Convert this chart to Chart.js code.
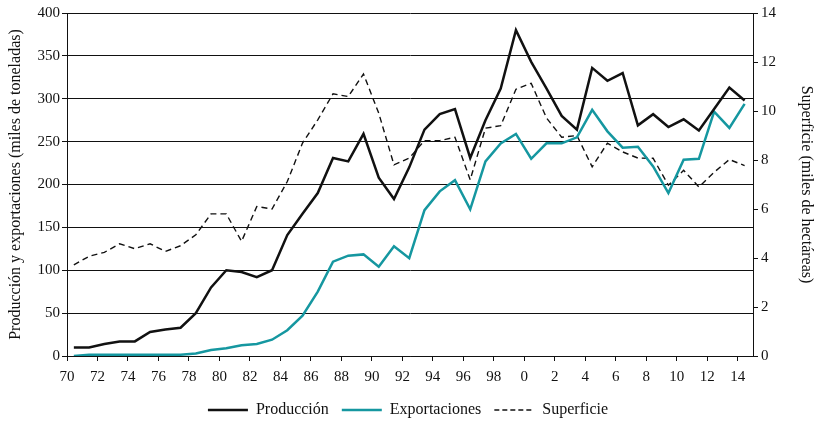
<!DOCTYPE html>
<html>
<head>
<meta charset="utf-8">
<script src="https://cdn.jsdelivr.net/npm/chart.js@4.4.1/dist/chart.umd.min.js"></script>
<style>
  html, body { margin: 0; padding: 0; background: #fff; }
  #wrap { width: 816px; height: 421px; }
</style>
</head>
<body>
<div id="wrap"><canvas id="chart" width="816" height="421"></canvas></div>
<script>
let years = [1970, 1971, 1972, 1973, 1974, 1975, 1976, 1977, 1978, 1979,
             1980, 1981, 1982, 1983, 1984, 1985, 1986, 1987, 1988, 1989,
             1990, 1991, 1992, 1993, 1994, 1995, 1996, 1997, 1998, 1999,
             2000, 2001, 2002, 2003, 2004, 2005, 2006, 2007, 2008, 2009,
             2010, 2011, 2012, 2013, 2014];

// miles de toneladas
let produccion = [10, 10, 14, 17, 17, 28, 31, 33, 50, 80,
                  100, 98, 92, 100, 141, 166, 190, 231, 227, 259,
                  208, 183, 220, 264, 282, 288, 231, 275, 312, 380,
                  343, 312, 280, 264, 336, 321, 330, 269, 282, 267,
                  276, 263, 288, 313, 298];

let exportaciones = [0, 1.5, 1.5, 1.5, 1.5, 1.5, 1.5, 1.5, 3, 7,
                     9, 12.5, 14, 19, 30, 47, 75, 110, 117, 118.5,
                     104, 128, 114, 170, 192, 205, 171, 227, 248, 259,
                     230, 248, 248, 255, 287, 262, 243, 244, 221, 190,
                     229, 230, 285, 266, 294];

// miles de hectareas
let superficie = [3.72, 4.07, 4.23, 4.58, 4.38, 4.58, 4.27, 4.5, 4.95, 5.8,
                  5.8, 4.68, 6.1, 6.0, 7.12, 8.69, 9.64, 10.7, 10.59, 11.51,
                  9.91, 7.8, 8.08, 8.79, 8.79, 8.93, 7.19, 9.3, 9.4, 10.89,
                  11.13, 9.72, 8.93, 9.0, 7.72, 8.69, 8.33, 8.08, 8.07, 6.97,
                  7.58, 6.9, 7.5, 8.02, 7.77];

let leftTicks = [0, 50, 100, 150, 200, 250, 300, 350, 400];
let rightTicks = [0, 2, 4, 6, 8, 10, 12, 14];
let xTickYears = [1970, 1972, 1974, 1976, 1978, 1980, 1982, 1984, 1986, 1988,
                  1990, 1992, 1994, 1996, 1998, 2000, 2002, 2004, 2006, 2008,
                  2010, 2012, 2014];

let serif = "'Liberation Serif', 'DejaVu Serif', serif";
let tickFont = { family: serif, size: 15 };
let titleFont = { family: serif, size: 16 };
let ink = '#111';
let teal = '#1597a0';

// points sit a bit inside each year interval
let toPoints = function(values){
  return values.map(function(v, i){ return { x: years[i] + 0.45, y: v }; });
};

let fixTicks = function(list){
  return function(axis){
    axis.ticks = list.map(function(v){ return { value: v }; });
  };
};

let legendLabels = function(chart){
  let items = Chart.defaults.plugins.legend.labels.generateLabels(chart);
  items.forEach(function(item){
    let ds = chart.data.datasets[item.datasetIndex];
    item.lineWidth = ds.borderWidth;
    item.lineDash = ds.legendDash || [];
    item.strokeStyle = ds.borderColor;
  });
  return items;
};

new Chart(document.getElementById('chart').getContext('2d'), {
  type: 'line',
  data: {
    datasets: [
      {
        label: 'Producción',
        data: toPoints(produccion),
        borderColor: ink,
        backgroundColor: ink,
        borderWidth: 2.5,
        pointRadius: 0,
        pointStyle: 'line',
        yAxisID: 'y'
      },
      {
        label: 'Exportaciones',
        data: toPoints(exportaciones),
        borderColor: teal,
        backgroundColor: teal,
        borderWidth: 2.5,
        pointRadius: 0,
        pointStyle: 'line',
        yAxisID: 'y'
      },
      {
        label: 'Superficie',
        data: toPoints(superficie),
        borderColor: ink,
        backgroundColor: ink,
        borderWidth: 1.4,
        borderDash: [6, 4],
        legendDash: [5, 3],
        pointRadius: 0,
        pointStyle: 'line',
        yAxisID: 'y2'
      }
    ]
  },
  options: {
    responsive: false,
    animation: false,
    layout: { padding: { top: 13, left: 0, right: 0, bottom: -7 } },
    plugins: {
      tooltip: { enabled: false },
      legend: {
        position: 'bottom',
        labels: {
          usePointStyle: true,
          pointStyleWidth: 40,
          padding: 13,
          color: ink,
          font: titleFont,
          generateLabels: legendLabels
        }
      }
    },
    scales: {
      x: {
        type: 'linear',
        min: 1970,
        max: 2015,
        afterBuildTicks: fixTicks(xTickYears),
        afterFit: function(axis){ axis.height = 33; },
        border: { color: ink, width: 1 },
        grid: { drawOnChartArea: false, color: ink, tickLength: 5 },
        ticks: {
          color: ink,
          font: tickFont,
          padding: 7,
          maxRotation: 0,
          autoSkip: false,
          callback: function(v){ return String(v % 100); }
        }
      },
      y: {
        position: 'left',
        min: 0,
        max: 400,
        afterBuildTicks: fixTicks(leftTicks),
        afterFit: function(axis){ axis.width = 67; },
        border: { color: ink, width: 1 },
        grid: { color: ink, lineWidth: 1, tickLength: 5 },
        ticks: { color: ink, font: tickFont, padding: 2 },
        title: {
          display: true,
          text: 'Producción y exportaciones (miles de toneladas)',
          color: ink,
          font: titleFont,
          padding: { top: 6, bottom: 0 }
        }
      },
      y2: {
        position: 'right',
        min: 0,
        max: 14,
        afterBuildTicks: fixTicks(rightTicks),
        afterFit: function(axis){ axis.width = 63; },
        border: { color: ink, width: 1 },
        grid: { drawOnChartArea: false, color: ink, tickLength: 5 },
        ticks: { color: ink, font: tickFont, padding: 3 },
        title: {
          display: true,
          text: 'Superficie (miles de hectáreas)',
          color: ink,
          font: titleFont,
          padding: { top: 0, bottom: 6 }
        }
      }
    }
  }
});
</script>
</body>
</html>
